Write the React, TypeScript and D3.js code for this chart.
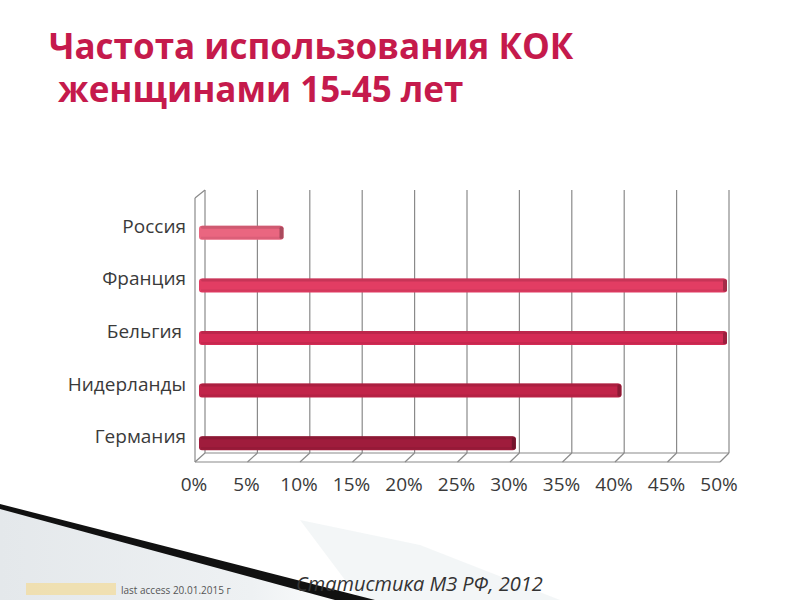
import * as React from 'react';
import * as d3 from 'd3';

const countries = ['Россия', 'Франция', 'Бельгия', 'Нидерланды', 'Германия'];
const usage = [8, 50, 50, 40, 30];
const barColors = ['#ea6680', '#e23d63', '#d52b55', '#c12449', '#9f1c3c'];
const ticks = [0, 5, 10, 15, 20, 25, 30, 35, 40, 45, 50];
const titleLines = ['Частота использования КОК', ' женщинами 15-45 лет'];

const W = 800, H = 600;
const FONT = '"Open Sans", "DejaVu Sans", sans-serif';

export default function App() {
    // back wall / floor front / bars
    const xBack = d3.scaleLinear().domain([0, 50]).range([205, 729]);
    const xFront = d3.scaleLinear().domain([0, 50]).range([195, 720]);
    const xBar = d3.scaleLinear().domain([0, 50]).range([199, 727]);
    const y = d3.scaleBand().domain(countries).range([200.5, 463.5]).paddingInner(0);

    const wallTop = 190, backBottom = 453, frontBottom = 462;
    const barH = 14;

    return (
        <svg width={W} height={H} style={{ position: 'absolute', left: 0, top: 0, background: '#fff' }}>
            <defs>
                <linearGradient id="floorShade" x1="0" y1="0" x2="1" y2="0">
                    <stop offset="0" stopColor="#e4e8eb" />
                    <stop offset="0.7" stopColor="#eef1f3" />
                    <stop offset="1" stopColor="#ffffff" />
                </linearGradient>
            </defs>

            {/* bottom decoration */}
            <polygon points="0,508 360,600 0,600" fill="url(#floorShade)" />
            <polygon points="360,600 560,600 420,545 300,520" fill="#eef2f4" opacity={0.7} />
            <polygon points="0,504 375,600 335,600 0,509" fill="#111" />

            {/* title */}
            <text fill="#c51a4c" fontFamily={FONT} fontWeight={700} fontSize={35} xmlSpace="preserve">
                <tspan x={49} y={59}>{titleLines[0]}</tspan>
                <tspan x={49} y={102}>{titleLines[1]}</tspan>
            </text>

            {/* walls */}
            <g stroke="#8a8a8a" strokeWidth={1.2} fill="none">
                <line x1={195} y1={198} x2={195} y2={frontBottom} />
                <line x1={195} y1={198} x2={xBack(0)} y2={wallTop} />
                <line x1={xFront(0)} y1={frontBottom} x2={xFront(50)} y2={frontBottom} />
                <line x1={xBack(0)} y1={backBottom} x2={xBack(50)} y2={backBottom} />
                {ticks.map(t => (
                    <g key={t}>
                        <line x1={xBack(t)} y1={wallTop} x2={xBack(t)} y2={backBottom} />
                        <line x1={xBack(t)} y1={backBottom} x2={xFront(t)} y2={frontBottom} />
                    </g>
                ))}
            </g>

            {/* bars */}
            {countries.map((c, i) => {
                const x0 = xBar(0), x1 = xBar(usage[i]);
                const top = (y(c) as number) + y.bandwidth() / 2 - 1;
                const col = d3.color(barColors[i]);
                return (
                    <g key={c}>
                        <rect x={x0} y={top} width={x1 - x0} height={barH} rx={3} fill={barColors[i]} />
                        <rect x={x0 + 2} y={top} width={x1 - x0 - 4} height={3} rx={1.5}
                            fill={col ? col.darker(0.6).toString() : barColors[i]} opacity={0.6} />
                        <rect x={x0 + 2} y={top + barH - 3} width={x1 - x0 - 4} height={2}
                            fill={col ? col.darker(0.4).toString() : barColors[i]} opacity={0.5} />
                        <rect x={x1 - 4} y={top + 1} width={4} height={barH - 2} rx={1.5}
                            fill={col ? col.darker(0.9).toString() : barColors[i]} />
                    </g>
                );
            })}

            {/* category labels */}
            <g fontFamily={FONT} fontSize={19} fill="#3a3a3a" textAnchor="end">
                {countries.map(c => (
                    <text key={c} x={c === 'Бельгия' ? 182 : 186} y={(y(c) as number) + y.bandwidth() / 2 + 6}>{c}</text>
                ))}
            </g>

            {/* tick labels */}
            <g fontFamily={FONT} fontSize={19} fill="#3a3a3a" textAnchor="middle">
                {ticks.map(t => (
                    <text key={t} x={xFront(t) - 1} y={491}>{t + '%'}</text>
                ))}
            </g>

            {/* source */}
            <text x={296} y={591} fontFamily={FONT} fontStyle="italic" fontSize={20} fill="#333">Статистика МЗ РФ, 2012</text>
            <rect x={26} y={583} width={90} height={12} fill="#f5d98a" opacity={0.6} />
            <text x={121} y={594} fontFamily={FONT} fontSize={10} fill="#555">last access 20.01.2015 г</text>
        </svg>
    );
}
